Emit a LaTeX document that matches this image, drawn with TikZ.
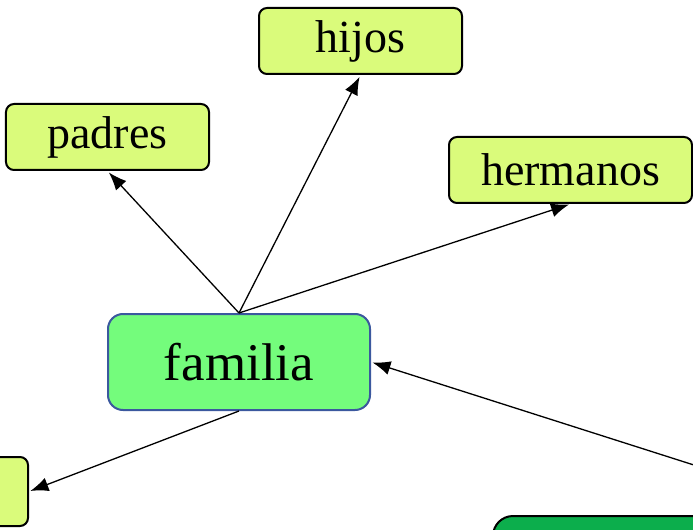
\documentclass[tikz,border=0pt]{standalone}
\usepackage{fontspec}
\setmainfont{Liberation Serif}
\usetikzlibrary{arrows.meta}
\definecolor{lightfill}{RGB}{218,251,123}
\definecolor{famfill}{RGB}{116,252,124}
\definecolor{famborder}{RGB}{59,88,158}
\definecolor{darkfill}{RGB}{12,174,76}
\tikzset{
  leaf/.style={draw=black, line width=2bp, rounded corners=8bp, fill=lightfill,
    minimum height=66bp, inner sep=0pt, font=\fontsize{46bp}{50bp}\selectfont},
  hub/.style={draw=famborder, line width=2bp, rounded corners=15bp, fill=famfill,
    minimum width=262bp, minimum height=96bp, inner sep=0pt, font=\fontsize{53bp}{56bp}\selectfont},
  darkbox/.style={draw=black, line width=2bp, rounded corners=20bp, fill=darkfill, inner sep=0pt},
  conn/.style={draw=black, line width=1.3bp, -{Latex[length=18bp,width=14bp]}}
}
\begin{document}
\begin{tikzpicture}[x=1bp,y=-1bp]
\useasboundingbox (0,0) rectangle (693,530);
\clip (0,0) rectangle (693,530);
\node[leaf, minimum width=203bp] (hijos) at (360.5,41) {hijos};
\node[leaf, minimum width=203bp] (padres) at (107.5,137) {padres};
\node[leaf, minimum width=243bp] (hermanos) at (570.5,170) {hermanos};
\node[hub] (familia) at (239,362) {familia};
\node[leaf, minimum width=100bp, minimum height=69bp] (bl) at (-22,491.5) {};
\node[darkbox, minimum width=240bp, minimum height=80bp] (br) at (613,556) {};
\coordinate (src) at (697,466);
\draw[conn, shorten >=2bp] (familia.north) -- (padres.south);
\draw[conn, shorten >=2bp] (familia.north) -- (hijos.south);
\draw[conn, shorten >=1.5bp] (familia.north) -- (hermanos.south);
\draw[conn, shorten >=1.5bp] (familia.south) -- (bl.east);
\draw[conn, shorten >=1.5bp] (src) -- (familia.east);
\end{tikzpicture}
\end{document}
